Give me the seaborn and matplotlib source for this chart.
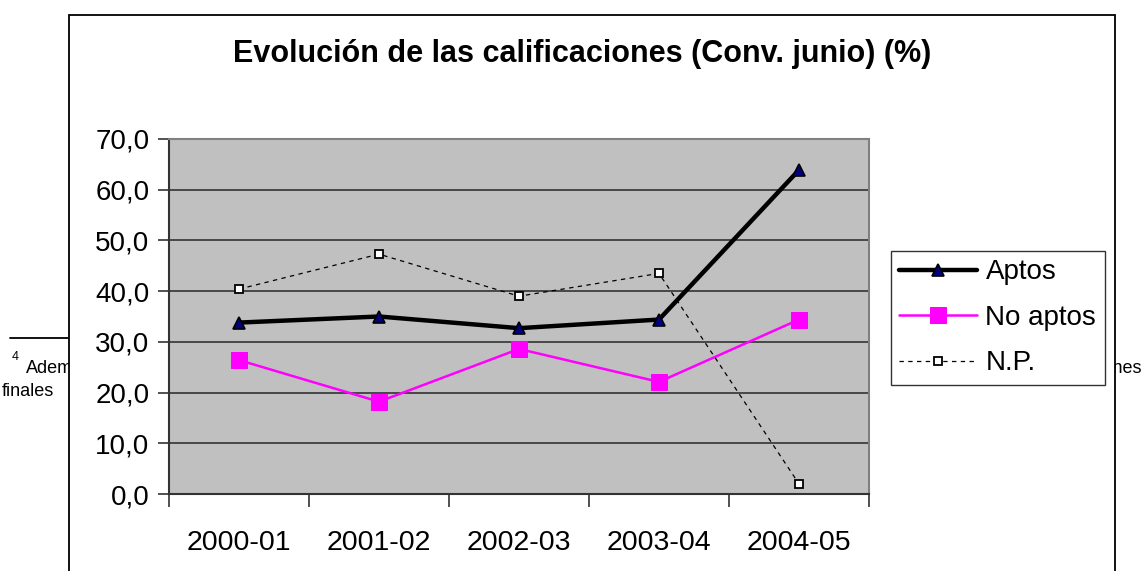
import numpy as np
import pandas as pd
import matplotlib
matplotlib.use("Agg")
import matplotlib.pyplot as plt
from matplotlib.patches import Rectangle
import seaborn as sns

sns.set_style('white')
plt.rcParams['font.family'] = ['Liberation Sans', 'DejaVu Sans']
plt.rcParams['text.color'] = 'black'
plt.rcParams['xtick.color'] = 'black'
plt.rcParams['ytick.color'] = 'black'

# data
cursos = ['2000-01', '2001-02', '2002-03', '2003-04', '2004-05']
aptos = [33.8, 35.0, 32.7, 34.4, 63.9]
no_aptos = [26.4, 18.2, 28.6, 22.1, 34.4]
no_presentados = [40.4, 47.3, 39.0, 43.5, 2.0]
y_ticks = [0, 10, 20, 30, 40, 50, 60, 70]

df = pd.DataFrame({'pos': np.arange(len(cursos)), 'curso': cursos,
                   'Aptos': aptos, 'No aptos': no_aptos, 'N.P.': no_presentados})

W, H = 1144, 571
fig = plt.figure(figsize=(W / 100, H / 100), dpi=100)

# footnote text peeking behind the chart frame
fig.add_artist(plt.Line2D([10 / W, 68 / W], [1 - 338 / H, 1 - 338 / H],
                          color='black', lw=1.3, zorder=-3))
fig.text(12 / W, 1 - 360 / H, '4', fontsize=9, zorder=-3)
fig.text(26 / W, 1 - 373 / H, 'Además', fontsize=13, zorder=-3)
fig.text(2 / W, 1 - 396 / H, 'finales', fontsize=13, zorder=-3)
fig.text(1142 / W, 1 - 373 / H, 'calificaciones', fontsize=13, ha='right', zorder=-3)

# chart frame
fig.add_artist(Rectangle((69 / W, -0.05), (1115 - 69) / W, 1 - 15 / H + 0.05,
                         transform=fig.transFigure, facecolor='white',
                         edgecolor='black', lw=1.3, zorder=-2))

ax = fig.add_axes([169 / W, 1 - 494 / H, (869 - 169) / W, (494 - 139) / H])
ax.set_facecolor('#C0C0C0')

sns.lineplot(data=df, x='pos', y='Aptos', ax=ax, color='black', lw=3.2,
             marker='^', markersize=9, markerfacecolor='#000080',
             markeredgecolor='black', markeredgewidth=1.2, label='Aptos')
sns.lineplot(data=df, x='pos', y='No aptos', ax=ax, color='#FF00FF', lw=1.8,
             marker='s', markersize=11, markerfacecolor='#FF00FF',
             markeredgecolor='#FF00FF', label='No aptos')
sns.lineplot(data=df, x='pos', y='N.P.', ax=ax, color='black', lw=0.9,
             linestyle=(0, (3.5, 3.5)), marker='s', markersize=6,
             markerfacecolor='white', markeredgecolor='black',
             markeredgewidth=1.3, label='N.P.')

ax.set_xlim(-0.5, len(cursos) - 0.5)
ax.set_ylim(0, 70)
ax.set_yticks(y_ticks)
ax.set_yticklabels([f'{v:.1f}'.replace('.', ',') for v in y_ticks], fontsize=20)
ax.set_xticks(df['pos'])
ax.set_xticklabels(cursos, fontsize=20.5)
ax.set_xticks(np.arange(-0.5, len(cursos), 1.0), minor=True)
ax.tick_params(axis='x', which='major', length=0, pad=26, bottom=True)
ax.tick_params(axis='x', which='minor', length=9, width=1.2, color='#333333',
               direction='out', bottom=True)
ax.tick_params(axis='y', which='major', length=8, width=1.2, color='#333333',
               direction='out', pad=6, left=True)
ax.set_xlabel('')
ax.set_ylabel('')
ax.yaxis.grid(True, color='#333333', lw=1.2)
ax.set_axisbelow(True)
for side in ['top', 'right']:
    ax.spines[side].set_color('#808080')
    ax.spines[side].set_linewidth(1.5)
for side in ['left', 'bottom']:
    ax.spines[side].set_color('#333333')
    ax.spines[side].set_linewidth(1.5)

fig.text(582 / W, 1 - 54 / H, 'Evolución de las calificaciones (Conv. junio) (%)',
         fontsize=22, fontweight='bold', ha='center', va='center', color='black')

leg = ax.legend(loc='upper left', bbox_to_anchor=(891 / W, 1 - 251 / H),
                bbox_transform=fig.transFigure, fontsize=20, frameon=True,
                fancybox=False, edgecolor='black', handlelength=2.8,
                borderpad=0.3, labelspacing=0.7, handletextpad=0.3,
                borderaxespad=0)
leg.get_frame().set_linewidth(1.0)

fig.savefig('out.png', dpi=100)
